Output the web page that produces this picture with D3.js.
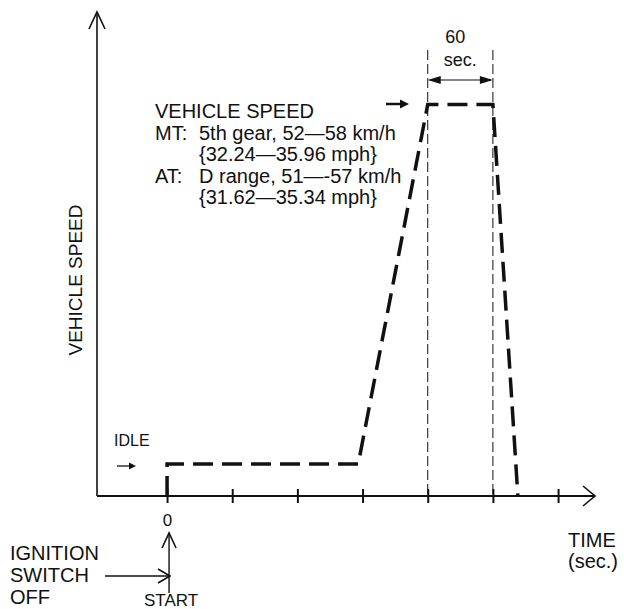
<!DOCTYPE html>
<html>
<head>
<meta charset="utf-8">
<script src="https://cdn.jsdelivr.net/npm/d3@7"></script>
<style>
  html, body { margin: 0; padding: 0; background: #fff; }
  svg { display: block; }
  text { font-family: "Liberation Sans", Arial, Helvetica, sans-serif; fill: #111; }
</style>
</head>
<body>
<script>
// Time axis (seconds) – tick every 60 s, only the origin is labelled
const timeTicks = [0, 60, 120, 180, 240, 300, 360];
const tickLabels = ["0", "", "", "", "", "", ""];

// Vehicle speed profile of the test drive (km/h): idle, accelerate, hold, stop
const profileTime  = [0, 0,   176, 240, 300, 323];
const profileSpeed = [0, 4.5, 4.5, 55,  55,  0];

// Hold window at constant speed
const holdWindow = [240, 300];
const holdLabel = ["60", "sec."];

// Speed specification text
const specLines = [
  { head: "VEHICLE SPEED", body: "" },
  { head: "MT:", body: "5th gear, 52\u201458 km/h" },
  { head: "",    body: "{32.24\u201435.96 mph}" },
  { head: "AT:", body: "D range, 51\u2014-57 km/h" },
  { head: "",    body: "{31.62\u201435.34 mph}" }
];
const ignitionLines = ["IGNITION", "SWITCH", "OFF"];
const timeTitle = ["TIME", "(sec.)"];

const W = 624, H = 609;
const svg = d3.select("body").append("svg").attr("width", W).attr("height", H);

const x = d3.scaleLinear().domain([-64.5, 394]).range([97, 595]);
const y = d3.scaleLinear().domain([0, 68]).range([496, 12]);

const ink = "#111";

// ---- axes -------------------------------------------------------------
svg.append("line").attr("x1", x(-64.5)).attr("y1", y(0)).attr("x2", x(394)).attr("y2", y(0))
  .attr("stroke", ink).attr("stroke-width", 2);
svg.append("line").attr("x1", x(-64.5)).attr("y1", y(0)).attr("x2", x(-64.5)).attr("y2", y(68))
  .attr("stroke", ink).attr("stroke-width", 1.6);

// open chevron arrowheads
const chevron = (pts) => svg.append("path").attr("d", d3.line()(pts))
  .attr("fill", "none").attr("stroke", ink).attr("stroke-width", 1.6);
chevron([[x(-64.5) - 8, y(68) + 17], [x(-64.5), y(68)], [x(-64.5) + 8, y(68) + 17]]);
chevron([[x(394) - 12, y(0) - 10], [x(394), y(0)], [x(394) - 12, y(0) + 10]]);

// tick crosses
const axis = d3.axisBottom(x).tickValues(timeTicks).tickSize(7)
  .tickFormat((d, i) => tickLabels[i]);
const gAxis = svg.append("g").attr("transform", `translate(0,${y(0)})`).call(axis);
gAxis.select(".domain").remove();
gAxis.selectAll(".tick line").attr("y1", -7).attr("y2", 7).attr("stroke", ink).attr("stroke-width", 2);
gAxis.selectAll(".tick text").attr("y", 18).attr("font-size", 17)
  .style("font-family", "'Liberation Sans', Arial, sans-serif").attr("fill", ink);

// ---- hold window guides ----------------------------------------------
svg.selectAll(".guide").data(holdWindow).enter().append("line")
  .attr("x1", d => x(d)).attr("x2", d => x(d))
  .attr("y1", 50).attr("y2", y(0))
  .attr("stroke", ink).attr("stroke-width", 1).attr("stroke-dasharray", "10 4");

// double arrow spanning the hold window
const ay = 80;
svg.append("line").attr("x1", x(holdWindow[0]) + 2).attr("x2", x(holdWindow[1]) - 2)
  .attr("y1", ay).attr("y2", ay).attr("stroke", ink).attr("stroke-width", 1.2);
const headL = [[x(holdWindow[0]), ay], [x(holdWindow[0]) + 13, ay - 4], [x(holdWindow[0]) + 13, ay + 4]];
const headR = [[x(holdWindow[1]), ay], [x(holdWindow[1]) - 13, ay - 4], [x(holdWindow[1]) - 13, ay + 4]];
[headL, headR].forEach(h => svg.append("path").attr("d", d3.line()(h) + "Z").attr("fill", ink));

svg.selectAll(".hold").data(holdLabel).enter().append("text")
  .attr("x", (d, i) => (x(holdWindow[0]) + x(holdWindow[1])) / 2 + (i ? 0 : -5))
  .attr("y", (d, i) => 43 + i * 23)
  .attr("text-anchor", "middle").attr("font-size", 18).text(d => d);

// ---- speed profile --------------------------------------------------
const profile = profileTime.map((t, i) => [t, profileSpeed[i]]);
svg.append("path")
  .attr("d", d3.line().x(d => x(d[0])).y(d => y(d[1]))(profile))
  .attr("fill", "none").attr("stroke", ink).attr("stroke-width", 3.5)
  .attr("stroke-dasharray", "20 9").attr("stroke-linejoin", "miter");

// ---- specification block ------------------------------------------
const specX = 155, specBodyX = 199, specY0 = 118, specDy = 21.5;
const spec = svg.append("g").attr("font-size", 20);
specLines.forEach((l, i) => {
  if (l.head) spec.append("text").attr("x", specX).attr("y", specY0 + i * specDy).text(l.head);
  if (l.body) spec.append("text").attr("x", specBodyX).attr("y", specY0 + i * specDy).text(l.body);
});
// pointer to the plateau
svg.append("line").attr("x1", 386).attr("x2", 402).attr("y1", 104).attr("y2", 104)
  .attr("stroke", ink).attr("stroke-width", 2.5);
svg.append("path").attr("d", "M409,104 L400,99.5 L400,108.5 Z").attr("fill", ink);

// ---- labels -------------------------------------------------------
svg.append("text").attr("transform", "translate(82,280) rotate(-90)")
  .attr("text-anchor", "middle").attr("font-size", 19).text("VEHICLE SPEED");

svg.append("text").attr("x", 114).attr("y", 446).attr("font-size", 16).text("IDLE");
svg.append("line").attr("x1", 117).attr("x2", 130).attr("y1", 466).attr("y2", 466)
  .attr("stroke", ink).attr("stroke-width", 1.3);
svg.append("path").attr("d", "M136,466 L129,462.5 L129,469.5 Z").attr("fill", ink);

svg.selectAll(".ign").data(ignitionLines).enter().append("text")
  .attr("x", 10).attr("y", (d, i) => 560 + i * 22).attr("font-size", 20).text(d => d);
// ignition → start arrows
svg.append("line").attr("x1", 105).attr("x2", 169).attr("y1", 576).attr("y2", 576)
  .attr("stroke", ink).attr("stroke-width", 1.6);
chevron([[158, 569], [170, 576], [158, 583]]);
svg.append("line").attr("x1", x(0) + 2).attr("x2", x(0) + 2).attr("y1", 593).attr("y2", 533)
  .attr("stroke", ink).attr("stroke-width", 1.4);
chevron([[x(0) - 5, 548], [x(0) + 2, 533], [x(0) + 9, 548]]);
svg.append("text").attr("x", 171).attr("y", 606).attr("text-anchor", "middle")
  .attr("font-size", 17).text("START");

svg.selectAll(".tt").data(timeTitle).enter().append("text")
  .attr("x", (d, i) => i ? 568 : 568).attr("y", (d, i) => 547 + i * 21)
  .attr("font-size", 20).text(d => d);
</script>
</body>
</html>
